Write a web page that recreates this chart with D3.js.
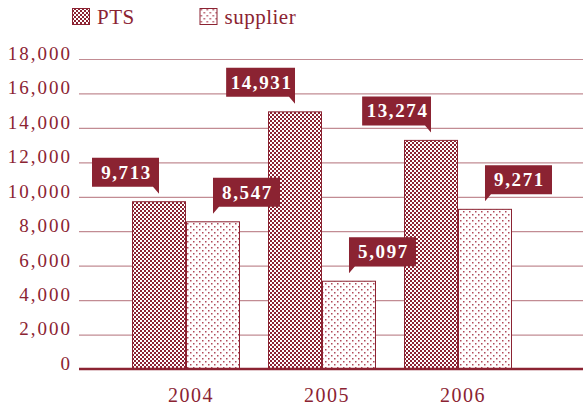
<!DOCTYPE html>
<html>
<head>
<meta charset="utf-8">
<title>PTS vs supplier</title>
<style>
body { margin: 0; background: #fff; }
svg text { font-family: "Liberation Serif", "DejaVu Serif", serif; font-variant-numeric: oldstyle-nums; }
.tick text { fill: #8b2332; font-size: 19px; letter-spacing: 2px; font-family: "Liberation Serif", serif; }
.tick line { stroke: #c28c93; stroke-width: 1.2px; }
.legend text { fill: #8b2332; font-size: 21px; letter-spacing: 0.5px; }
.year { fill: #8b2332; font-size: 20px; letter-spacing: 1.5px; }
.callout text { fill: #fff; font-size: 19px; font-weight: bold; letter-spacing: 1.6px; }
</style>
</head>
<body>
<script src="https://cdn.jsdelivr.net/npm/d3@7/dist/d3.min.js"></script>
<script>
// chart data
var years = ["2004", "2005", "2006"];
var series = ["PTS", "supplier"];
var ptsValues = [9713, 14931, 13274];
var supplierValues = [8547, 5097, 9271];
var yTicks = [0, 2000, 4000, 6000, 8000, 10000, 12000, 14000, 16000, 18000];

var maroon = "#8b2332";
var width = 583, height = 413;

var svg = d3.select("body").append("svg")
    .attr("width", width)
    .attr("height", height);

// fill patterns
var defs = svg.append("defs");
var checker = defs.append("pattern")
    .attr("id", "pat-PTS")
    .attr("patternUnits", "userSpaceOnUse")
    .attr("width", 4).attr("height", 4);
checker.append("rect").attr("width", 4).attr("height", 4).attr("fill", maroon);
checker.append("rect").attr("x", 0).attr("y", 0).attr("width", 2).attr("height", 2).attr("fill", "#fff");
checker.append("rect").attr("x", 2).attr("y", 2).attr("width", 2).attr("height", 2).attr("fill", "#fff");

var dots = defs.append("pattern")
    .attr("id", "pat-supplier")
    .attr("patternUnits", "userSpaceOnUse")
    .attr("width", 6).attr("height", 6);
dots.append("rect").attr("width", 6).attr("height", 6).attr("fill", "#fff");
dots.append("rect").attr("x", 1).attr("y", 1).attr("width", 1.5).attr("height", 1.5).attr("fill", "#b04a5a");
dots.append("rect").attr("x", 4).attr("y", 4).attr("width", 1.5).attr("height", 1.5).attr("fill", "#b04a5a");

// scales
var y = d3.scaleLinear().domain([0, 18000]).range([369, 59]);
var x0 = d3.scaleBand().domain(years).range([118, 526]).paddingInner(0.206).paddingOuter(0.103);
var x1 = d3.scaleBand().domain(series).range([0, x0.bandwidth()]);

// gridlines + tick labels
var yAxis = d3.axisLeft(y)
    .tickValues(yTicks)
    .tickSize(-(width - 79))
    .tickPadding(7)
    .tickFormat(d3.format(","));

svg.append("g")
    .attr("class", "y axis")
    .attr("transform", "translate(79,0)")
    .call(yAxis)
    .call(function(g) { g.select(".domain").remove(); })
    .call(function(g) { g.selectAll(".tick text").attr("dy", "0.02em"); });

// bars
var flat = [];
years.forEach(function(yr, i) {
    flat.push({ year: yr, key: "PTS", value: ptsValues[i] });
    flat.push({ year: yr, key: "supplier", value: supplierValues[i] });
});

function barX(d) { return x0(d.year) + x1(d.key); }

svg.append("g").attr("class", "bars")
    .selectAll("rect")
    .data(flat)
    .enter().append("rect")
    .attr("x", function(d) { return barX(d) + 0.5; })
    .attr("y", function(d) { return y(d.value); })
    .attr("width", x1.bandwidth() - 1)
    .attr("height", function(d) { return y(0) - y(d.value); })
    .attr("fill", function(d) { return "url(#pat-" + d.key + ")"; })
    .attr("stroke", maroon)
    .attr("stroke-width", 1);

// baseline
svg.append("line")
    .attr("x1", 79).attr("x2", width)
    .attr("y1", y(0)).attr("y2", y(0))
    .attr("stroke", maroon)
    .attr("stroke-width", 2.5);

// year labels
svg.selectAll(".year")
    .data(years)
    .enter().append("text")
    .attr("class", "year")
    .attr("x", function(d) { return x0(d) + x0.bandwidth() / 2 + 5; })
    .attr("y", 402)
    .attr("text-anchor", "middle")
    .text(function(d) { return d; });

// value callouts, drawn above all bars
var boxH = 29, gap = 15, tailH = 7, tailW = 6;
svg.append("g").attr("class", "callouts")
    .selectAll(".callout")
    .data(flat)
    .enter().append("g")
    .attr("class", "callout")
    .each(function(d) {
        var g = d3.select(this);
        var cx = barX(d) + x1.bandwidth() / 2;
        var bottom = y(d.value) - gap;
        var p = g.append("path").attr("fill", maroon);
        var t = g.append("text")
            .attr("y", bottom - 8)
            .attr("text-anchor", "middle")
            .text(d3.format(",")(d.value));
        var boxW = Math.max(67, t.node().getComputedTextLength() + 7);
        var left = d.key === "PTS" ? cx - boxW : cx;
        var path;
        if (d.key === "PTS") {
            path = "M" + left + "," + (bottom - boxH) + "H" + cx + "V" + (bottom + tailH) +
                "L" + (cx - tailW) + "," + bottom + "H" + left + "Z";
        } else {
            path = "M" + left + "," + (bottom - boxH) + "H" + (left + boxW) + "V" + bottom +
                "H" + (left + tailW) + "L" + left + "," + (bottom + tailH) + "Z";
        }
        p.attr("d", path);
        t.attr("x", left + boxW / 2 + 1);
    });

// legend
var legend = svg.selectAll(".legend")
    .data(series)
    .enter().append("g")
    .attr("class", "legend")
    .attr("transform", function(d, i) { return "translate(" + (72 + i * 127.5) + ",8)"; });

legend.append("rect")
    .attr("x", 0.5).attr("y", 0.5)
    .attr("width", 17).attr("height", 16)
    .attr("fill", function(d) { return "url(#pat-" + d + ")"; })
    .attr("stroke", maroon);

legend.append("text")
    .attr("x", 25)
    .attr("y", 16)
    .text(function(d) { return d; });
</script>
</body>
</html>
